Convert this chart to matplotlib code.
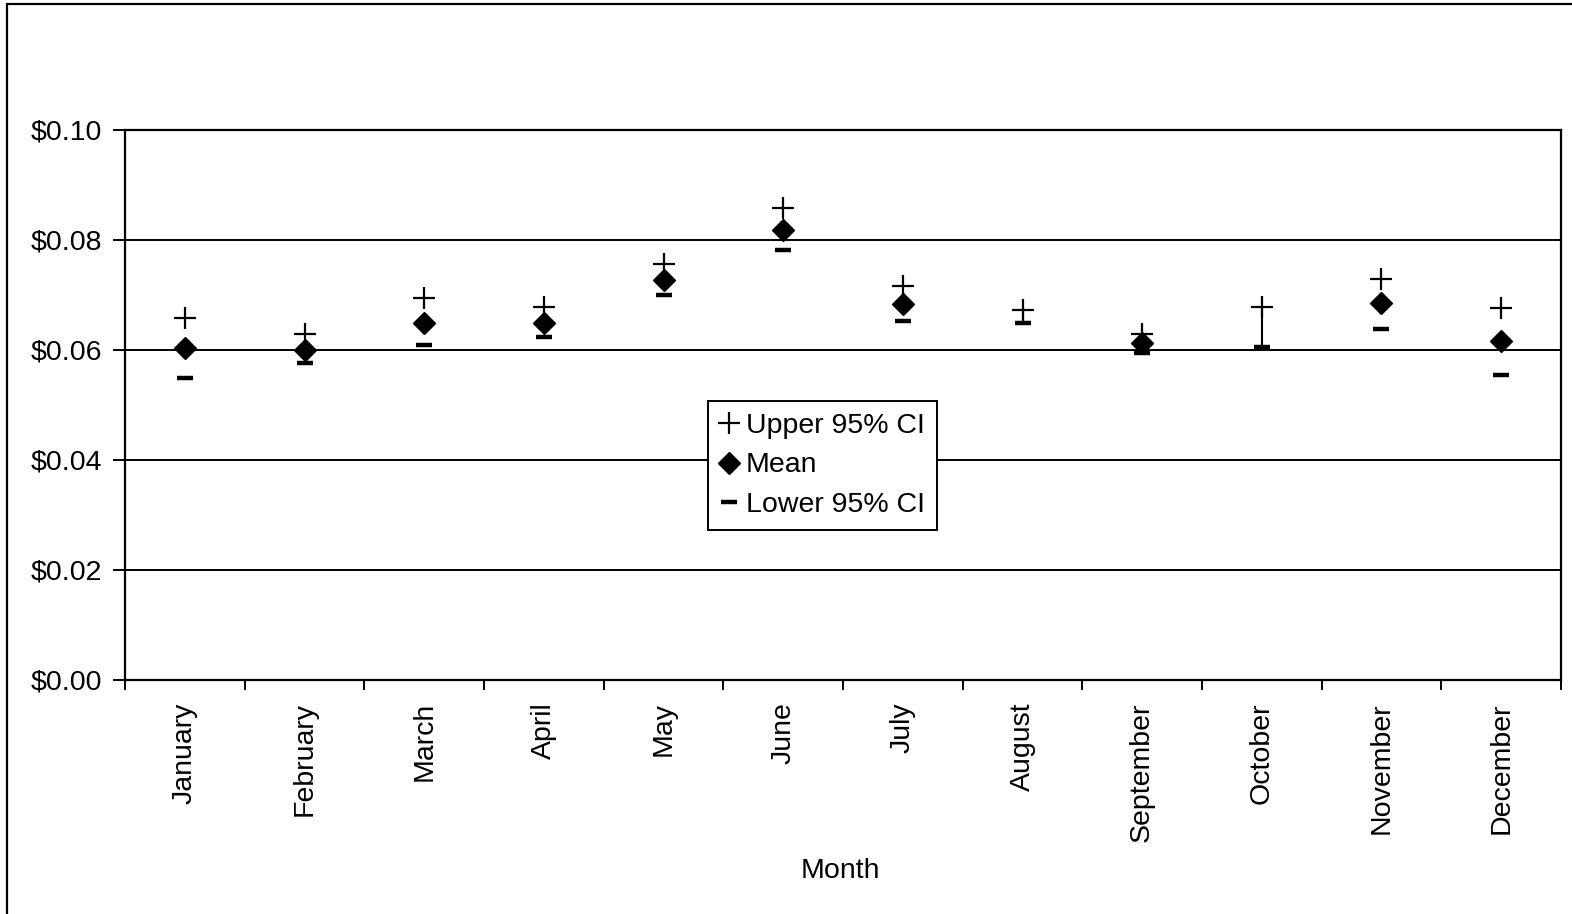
import numpy as np
import matplotlib.pyplot as plt
from matplotlib.patches import Rectangle
from matplotlib.ticker import FuncFormatter

plt.rcParams['font.family'] = ['Liberation Sans', 'DejaVu Sans']

months = ['January', 'February', 'March', 'April', 'May', 'June', 'July',
          'August', 'September', 'October', 'November', 'December']
upper = [0.0658, 0.0629, 0.0694, 0.0679, 0.0756, 0.0858, 0.0716,
         0.0672, 0.0629, 0.0679, 0.0730, 0.0676]
mean = [0.0603, 0.0600, 0.0650, 0.0650, 0.0727, 0.0818, 0.0684,
        np.nan, 0.0612, np.nan, 0.0686, 0.0616]
lower = [0.0550, 0.0576, 0.0609, 0.0624, 0.0700, 0.0782, 0.0653,
         0.0649, 0.0595, 0.0606, 0.0639, 0.0555]

W, H = 1572, 914
fs = 20.5
fig = plt.figure(figsize=(W / 100, H / 100), dpi=100)
ax = fig.add_axes([125 / W, 1 - 680 / H, (1561 - 125) / W, (680 - 130) / H])

x = np.arange(len(months))
up = np.array(upper)
lo = np.array(lower)
mn = np.array(mean)

# where the mean is missing a thin hi-lo line shows
miss = np.isnan(mn)
ax.vlines(x[miss], lo[miss], up[miss], color='black', lw=1.5, zorder=3)

ax.plot(x, up, ls='none', marker='+', ms=16, mew=1.6, color='black',
        label='Upper 95% CI', zorder=4)
ax.plot(x, mn, ls='none', marker='D', ms=11.5, color='black',
        label='Mean', zorder=4)
ax.plot(x, lo, ls='none', marker='_', ms=11.5, mew=3.2, color='black',
        label='Lower 95% CI', zorder=4)

ax.set_xlim(-0.5, len(months) - 0.5)
ax.set_ylim(0, 0.10)
ax.set_yticks(np.arange(0, 0.101, 0.02))
ax.yaxis.set_major_formatter(FuncFormatter(lambda v, p: '$%.2f' % v))
ax.grid(axis='y', color='black', lw=1.4)
ax.set_axisbelow(True)

ax.set_xticks(x)
ax.set_xticklabels(months, rotation=90, va='top', ha='center')
ax.set_xticks(np.arange(-0.5, len(months)), minor=True)
ax.tick_params(axis='x', which='major', length=0, pad=16, labelsize=fs)
ax.tick_params(axis='x', which='minor', length=7.5, width=1.4, direction='out')
ax.tick_params(axis='y', length=8.5, width=1.4, pad=8, labelsize=fs)

for s in ax.spines.values():
    s.set_linewidth(1.6)
    s.set_color('black')

leg = ax.legend(loc='upper left', bbox_to_anchor=(0.406, 0.507), fontsize=fs,
                frameon=True, fancybox=False, edgecolor='black', framealpha=1,
                handlelength=0.6, handletextpad=0.3, borderpad=0.42,
                labelspacing=0.47, borderaxespad=0)
leg.get_frame().set_linewidth(1.4)

fig.text(840 / W, 1 - 871 / H, 'Month', ha='center', va='center', fontsize=fs)

fig.patches.append(Rectangle((7 / W, -0.1), 1.2, 1 - 4 / H + 0.1, transform=fig.transFigure,
                             fill=False, edgecolor='black', lw=1.6))

fig.savefig('out.png', dpi=100)
